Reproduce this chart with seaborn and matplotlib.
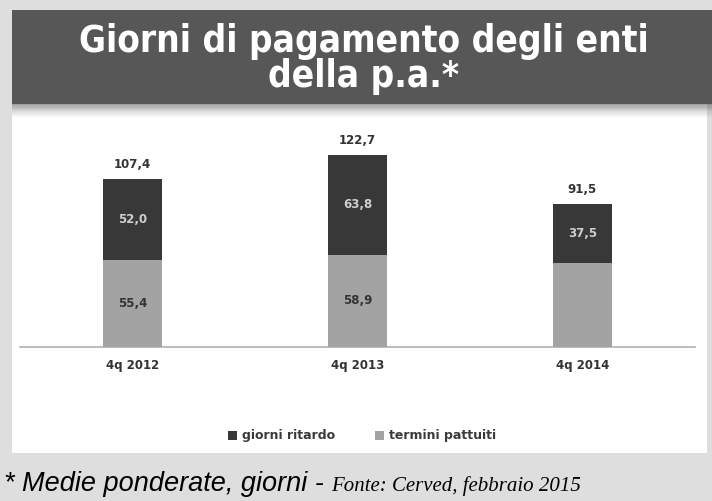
import matplotlib
matplotlib.use("Agg")
import matplotlib.pyplot as plt
from matplotlib.patches import Rectangle, Patch
import seaborn as sns
import pandas as pd

# ---- data ----
categories = ["4q 2012", "4q 2013", "4q 2014"]
giorni_ritardo = [52.0, 63.8, 37.5]
termini_pattuiti = [55.4, 58.9, 54.0]
totali = [107.4, 122.7, 91.5]
show_termini_label = [True, True, False]
series_names = ["giorni ritardo", "termini pattuiti"]
title_text = "Giorni di pagamento degli enti\ndella p.a.*"
footer_a = "* Medie ponderate, giorni - "
footer_b = "Fonte: Cerved, febbraio 2015"

def fmt(v):
    return f"{v:.1f}".replace(".", ",")

sns.set_theme(style="white")
plt.rcParams["font.family"] = ["DejaVu Sans"]

W, H = 712, 501
fig = plt.figure(figsize=(W / 100, H / 100), dpi=100)
fig.patch.set_facecolor("#dedede")

def fx(px):
    return px / W

def fy(py):
    return 1 - py / H

# white panel
fig.patches.append(Rectangle((fx(12), fy(453)), fx(707) - fx(12), fy(100) - fy(453),
                             transform=fig.transFigure, facecolor="white",
                             edgecolor="none", zorder=0))
# title box with soft shadow below
steps = 12
for i in range(steps):
    a = 0.55 * (1 - i / steps) ** 1.5
    fig.patches.append(Rectangle((fx(12), fy(104 + (i + 1) * 1.2)), fx(712) - fx(12),
                                 1.2 / H, transform=fig.transFigure,
                                 facecolor="#555555", alpha=a, edgecolor="none", zorder=1))
fig.patches.append(Rectangle((fx(12), fy(104)), fx(712) - fx(12), fy(10) - fy(104),
                             transform=fig.transFigure, facecolor="#575757",
                             edgecolor="none", zorder=2))
fig.text(fx(364), fy(59), title_text, ha="center", va="center", color="white",
         fontsize=26.5, fontweight="bold", fontstretch="condensed", linespacing=0.95,
         family=["DejaVu Sans"], zorder=3)

# chart axes
ax = fig.add_axes([fx(20), fy(347), fx(695) - fx(20), fy(128) - fy(347)])
ax.set_zorder(5)
ax.set_facecolor("none")
df = pd.DataFrame({"cat": categories, "ritardo": giorni_ritardo,
                   "termini": termini_pattuiti, "totale": totali})
dark = "#383838"
light = "#a3a3a3"
sns.barplot(data=df, x="cat", y="totale", color=dark, width=0.26,
            saturation=1, linewidth=0, ax=ax, zorder=2)
sns.barplot(data=df, x="cat", y="termini", color=light, width=0.26,
            saturation=1, linewidth=0, ax=ax, zorder=3)
ax.set_xlim(-0.5, 2.5)
ax.set_ylim(0, 140)
ax.set_xlabel("")
ax.set_ylabel("")
ax.set_yticks([])
for s in ["top", "left", "right"]:
    ax.spines[s].set_visible(False)
ax.spines["bottom"].set_color("#b0b0b0")
ax.spines["bottom"].set_linewidth(1.2)
ax.spines["bottom"].set_linestyle((0, (1, 1)))
ax.tick_params(axis="x", length=0, pad=9, labelsize=8.5)
for t in ax.get_xticklabels():
    t.set_fontweight("bold")
    t.set_color("#333333")

for i in range(len(categories)):
    ax.annotate(fmt(totali[i]), (i, totali[i]), xytext=(0, 6),
                textcoords="offset points", ha="center", va="bottom",
                fontsize=8.5, fontweight="bold", color="#333333")
    ax.text(i, termini_pattuiti[i] + giorni_ritardo[i] / 2, fmt(giorni_ritardo[i]),
            ha="center", va="center", fontsize=8.5, fontweight="bold",
            color="#cfcfcf", zorder=5)
    if show_termini_label[i]:
        ax.text(i, termini_pattuiti[i] / 2, fmt(termini_pattuiti[i]),
                ha="center", va="center", fontsize=8.5, fontweight="bold",
                color="#333333", zorder=5)

handles = [Patch(facecolor=dark, edgecolor="none"), Patch(facecolor=light, edgecolor="none")]
leg = fig.legend(handles, series_names, loc="center", bbox_to_anchor=(fx(362), fy(436)),
                 ncol=2, frameon=False, fontsize=9, handlelength=0.7, handleheight=0.7,
                 handletextpad=0.4, columnspacing=3.2, labelcolor="#3a3a3a")
for t in leg.get_texts():
    t.set_fontweight("bold")

# footer
ta = fig.text(fx(4), fy(491), footer_a, ha="left", va="baseline", fontsize=19.5,
              fontstyle="italic", family=["Liberation Sans", "DejaVu Sans"], color="black")
fig.canvas.draw()
bb = ta.get_window_extent()
fig.text(bb.x1 / W, fy(491), footer_b, ha="left", va="baseline", fontsize=15,
         fontstyle="italic", family=["Liberation Serif", "DejaVu Serif"], color="black")

fig.savefig("out.png", dpi=100)
